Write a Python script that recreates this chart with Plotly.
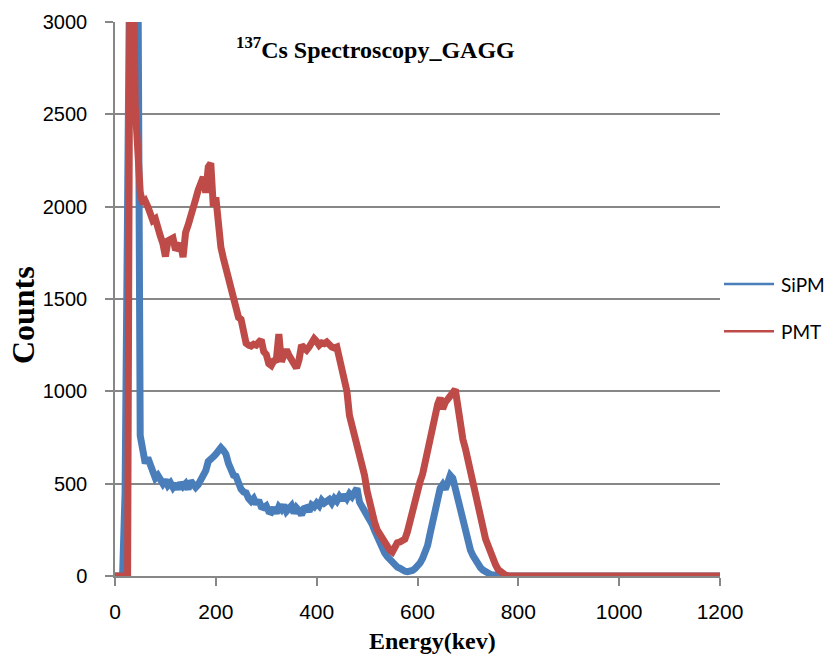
import plotly.graph_objects as go

# Energy axis (keV)
energy = list(range(0, 805, 5)) + [850, 900, 950, 1000, 1050, 1100, 1150, 1200]

# SiPM counts
sipm = [
    0, 0, 0, 0, 450, 2600, 3600, 3600, 3600, 3600,          # 0-45
    760, 680, 610, 640, 600, 560, 530, 545, 510, 500,       # 50-95
    520, 490, 505, 480, 500, 470, 505, 485, 500, 470,       # 100-145
    515, 490, 480, 495, 520, 540, 570, 620, 640, 645,       # 150-195
    660, 680, 695, 680, 660, 610, 580, 545, 540, 500,       # 200-245
    470, 455, 450, 420, 405, 420, 390, 410, 375, 370,       # 250-295
    380, 350, 345, 370, 340, 375, 360, 385, 350, 365,       # 300-345
    380, 340, 370, 355, 330, 365, 370, 350, 385, 375,       # 350-395
    395, 380, 410, 395, 400, 415, 395, 420, 405, 430,       # 400-445
    410, 440, 420, 445, 430, 460, 475, 400, 375, 355,       # 450-495
    340, 310, 280, 245, 210, 180, 150, 125, 105, 90,        # 500-545
    72, 60, 48, 42, 32, 26, 24, 25, 30, 40,                 # 550-595
    50, 70, 95, 125, 165, 230, 290, 360, 420, 475,          # 600-645
    495, 470, 505, 545, 530, 475, 395, 340, 287, 230,       # 650-695
    180, 140, 110, 85, 65, 45, 32, 22, 14, 8,               # 700-745
    5, 2, 0, 0, 0, 0, 0, 0, 0, 0,                           # 750-795
    0,                                                      # 800
    0, 0, 0, 0, 0, 0, 0, 0,                                 # 850-1200
]

# PMT counts
pmt = [
    0, 0, 0, 0, 0, 0, 3600, 3600, 2550, 2230,               # 0-45
    2080, 2015, 2030, 2000, 1950, 1925, 1935, 1870, 1840, 1800,  # 50-95
    1730, 1815, 1825, 1830, 1765, 1790, 1800, 1727, 1860, 1900,  # 100-145
    1940, 1985, 2040, 2090, 2140, 2160, 2075, 2215, 2236, 2000,  # 150-195
    2050, 1857, 1780, 1720, 1660, 1620, 1580, 1510, 1430, 1400,  # 200-245
    1390, 1300, 1260, 1250, 1245, 1255, 1250, 1265, 1280, 1215,  # 250-295
    1200, 1150, 1140, 1165, 1170, 1310, 1160, 1195, 1225, 1195,  # 300-345
    1170, 1150, 1126, 1170, 1250, 1235, 1223, 1240, 1265, 1285,  # 350-395
    1270, 1250, 1262, 1258, 1267, 1250, 1240, 1235, 1240, 1180,  # 400-445
    1115, 1070, 1000, 870, 820, 775, 700, 650, 612, 545,         # 450-495
    460, 390, 335, 290, 250, 225, 200, 180, 158, 140,            # 500-545
    130, 160, 180, 184, 190, 200, 240, 300, 360, 410,            # 550-595
    460, 510, 550, 615, 690, 760, 820, 880, 930, 965,            # 600-645
    905, 940, 960, 975, 995, 1010, 920, 790, 740, 690,           # 650-695
    630, 570, 500, 425, 360, 300, 250, 200, 165, 125,            # 700-745
    90, 60, 35, 20, 8, 4, 2, 0, 0, 0,                            # 750-795
    0,                                                           # 800
    0, 0, 0, 0, 0, 0, 0, 0,                                      # 850-1200
]

series_names = ["SiPM", "PMT"]
series_colors = ["#4A7EBB", "#BE4B48"]

fig = go.Figure()
fig.add_trace(go.Scatter(x=energy, y=sipm, mode="lines", name=series_names[0],
                         line=dict(color=series_colors[0], width=7), showlegend=False))
fig.add_trace(go.Scatter(x=energy, y=pmt, mode="lines", name=series_names[1],
                         line=dict(color=series_colors[1], width=7), showlegend=False))

grid = "#878787"
fig.update_layout(
    width=826, height=654,
    margin=dict(l=115, r=106, t=22, b=78),
    paper_bgcolor="white", plot_bgcolor="white",
    showlegend=False,
    xaxis=dict(range=[0, 1200], dtick=200, tick0=0, showgrid=False, zeroline=False,
               showline=True, linecolor=grid, linewidth=1.5,
               ticks="outside", ticklen=8, tickcolor=grid, tickwidth=1.5,
               tickfont=dict(family="Liberation Sans, Arial", size=21, color="black"),
               ticklabelstandoff=8),
    yaxis=dict(range=[0, 3000], dtick=500, tick0=0, showgrid=True, gridcolor=grid, gridwidth=1.5,
               zeroline=False, showline=True, linecolor=grid, linewidth=1.5,
               ticks="outside", ticklen=8, tickcolor=grid, tickwidth=1.5,
               tickfont=dict(family="Liberation Sans, Arial", size=20, color="black"),
               ticklabelstandoff=14),
)

serif = "Liberation Serif, Times New Roman, serif"
annotations = [
    dict(text="<b><sup>137</sup>Cs Spectroscopy_GAGG</b>", x=0.4306, y=0.953,
         xref="paper", yref="paper", xanchor="center", yanchor="middle", showarrow=False,
         font=dict(family=serif, size=24, color="black")),
    dict(text="<b>Counts</b>", x=-0.152, y=0.471, xref="paper", yref="paper",
         xanchor="center", yanchor="middle", textangle=-90, showarrow=False,
         font=dict(family=serif, size=32, color="black")),
    dict(text="<b>Energy(kev)</b>", x=0.5256, y=-0.117, xref="paper", yref="paper",
         xanchor="center", yanchor="middle", showarrow=False,
         font=dict(family=serif, size=24, color="black")),
]
legend_y = [0.527, 0.442]
shapes = []
for name, color, ly in zip(series_names, series_colors, legend_y):
    shapes.append(dict(type="line", xref="paper", yref="paper", x0=1.0066, x1=1.0893,
                       y0=ly, y1=ly, line=dict(color=color, width=2.5)))
    annotations.append(dict(text=name, x=1.0975, y=ly, xref="paper", yref="paper",
                            xanchor="left", yanchor="middle", showarrow=False,
                            font=dict(family="Lato, Carlito, Calibri, sans-serif", size=19, color="black")))
fig.update_layout(annotations=annotations, shapes=shapes)

fig.write_html("out.html")
